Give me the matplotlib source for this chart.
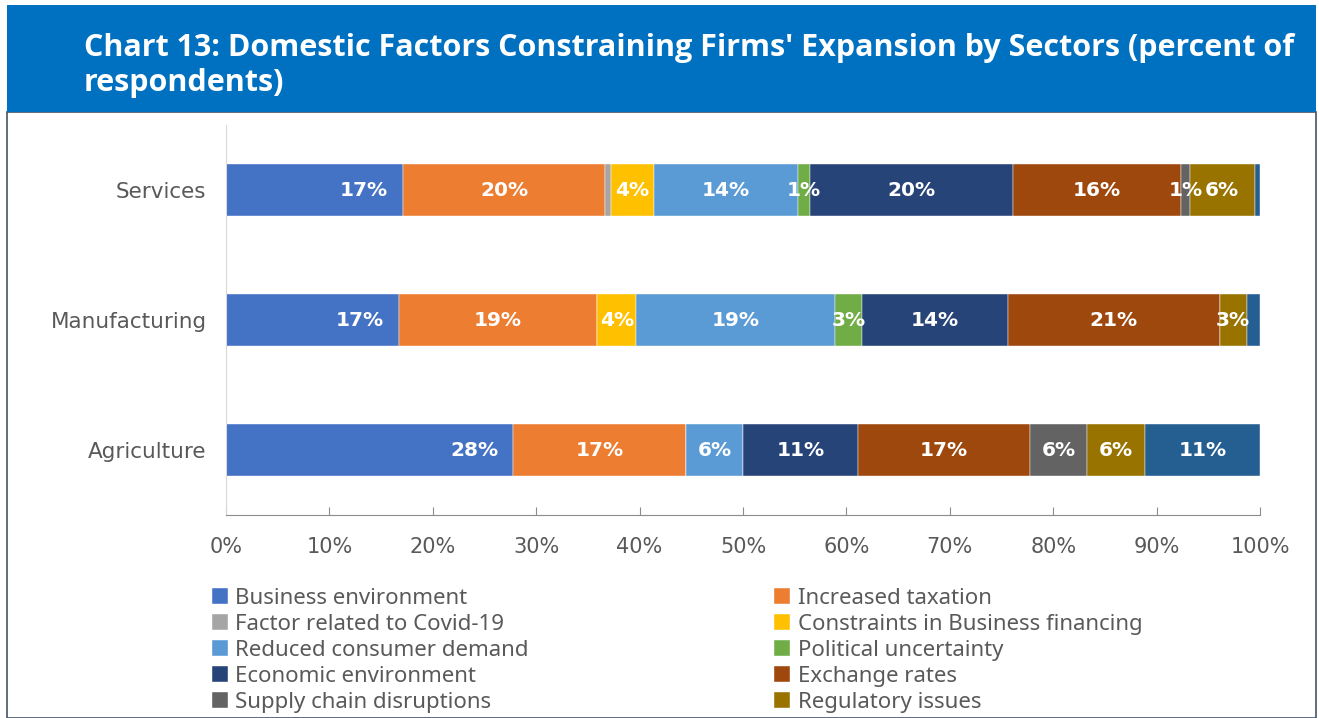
import numpy as np
import matplotlib.pyplot as plt
from matplotlib.patches import Rectangle

# data (percent of respondents)
sectors = ["Services", "Manufacturing", "Agriculture"]
factors = ["Business environment", "Increased taxation", "Factor related to Covid-19",
           "Constraints in Business financing", "Reduced consumer demand",
           "Political uncertainty", "Economic environment", "Exchange rates",
           "Supply chain disruptions", "Regulatory issues", "Others"]
colors = ["#4472C4", "#ED7D31", "#A5A5A5", "#FFC000", "#5B9BD5", "#70AD47",
          "#264478", "#9E480E", "#636363", "#997300", "#255E91"]

services = [17.1, 19.6, 0.5, 4.2, 13.9, 1.2, 19.6, 16.3, 0.8, 6.3, 0.5]
manufacturing = [16.7, 19.2, 0.0, 3.8, 19.2, 2.6, 14.1, 20.5, 0.0, 2.6, 1.3]
agriculture = [27.8, 16.7, 0.0, 0.0, 5.5, 0.0, 11.1, 16.7, 5.5, 5.6, 11.1]
values = np.array([services, manufacturing, agriculture])

# segments without a data label: (sector index, factor index)
no_label = {(0, 2), (0, 10), (1, 10)}

fig = plt.figure(figsize=(13.19, 7.18), dpi=100)

# header band and panel border
fig.patches.append(Rectangle((7 / 1319, 0), 1309 / 1319, (718 - 112) / 718,
                             transform=fig.transFigure, facecolor="white",
                             edgecolor="#44546A", lw=1.2, zorder=-2))
fig.patches.append(Rectangle((7 / 1319, 1 - 112 / 718), 1309 / 1319, 107 / 718,
                             transform=fig.transFigure, facecolor="#0070C0",
                             edgecolor="none", zorder=-1))
title_font = dict(color="white", fontsize=22, fontweight="bold", family="Open Sans",
                  va="center", ha="left")
fig.text(84 / 1319, 1 - 48 / 718,
         "Chart 13: Domestic Factors Constraining Firms' Expansion by Sectors (percent of",
         **title_font)
fig.text(84 / 1319, 1 - 83 / 718, "respondents)", **title_font)

ax = fig.add_axes([226 / 1319, 1 - 515 / 718, 1034 / 1319, 390 / 718])
ax.set_zorder(5)
ypos = np.array([2, 1, 0])
left = np.zeros(len(sectors))
bars = []
for j, name in enumerate(factors):
    b = ax.barh(ypos, values[:, j], left=left, height=0.4, color=colors[j],
                label=name, edgecolor="white", linewidth=0.3)
    bars.append(b)
    for i in range(len(sectors)):
        v = values[i, j]
        if v <= 0 or (i, j) in no_label:
            continue
        txt = "%d%%" % int(v + 0.5)
        if j == 0:
            ax.text(left[i] + v - 1.45, ypos[i], txt, ha="right", va="center",
                    color="white", fontsize=14.5, fontweight="bold")
        else:
            ax.text(left[i] + v / 2, ypos[i], txt, ha="center", va="center",
                    color="white", fontsize=14.5, fontweight="bold")
    left += values[:, j]

ax.set_xlim(0, 100)
ax.set_ylim(-0.5, 2.5)
ax.set_xticks(np.arange(0, 101, 10))
ax.set_xticklabels(["%d%%" % t for t in range(0, 101, 10)])
ax.set_yticks(ypos)
ax.set_yticklabels(sectors)
ax.tick_params(axis="x", direction="in", length=6, color="#8C8C8C",
               labelsize=15, labelcolor="#595959", pad=16)
ax.tick_params(axis="y", length=0, labelsize=15.5, labelcolor="#595959", pad=14)
for s in ["top", "right"]:
    ax.spines[s].set_visible(False)
ax.spines["left"].set_color("#D9D9D9")
ax.spines["bottom"].set_color("#8C8C8C")
ax.set_facecolor("none")

order = [0, 2, 4, 6, 8, 1, 3, 5, 7, 9]
handles = [bars[k] for k in order]
labels = [factors[k] for k in order]
leg = fig.legend(handles, labels, ncol=2, loc="upper left",
                 bbox_to_anchor=(212 / 1319, 1 - 588 / 718), frameon=False,
                 prop={"family": "Noto Sans", "size": 16}, labelcolor="#595959",
                 handlelength=0.7, handleheight=0.7, handletextpad=0.35,
                 labelspacing=0.22, columnspacing=11.05, borderpad=0, borderaxespad=0)

fig.savefig("out.png", dpi=100)
